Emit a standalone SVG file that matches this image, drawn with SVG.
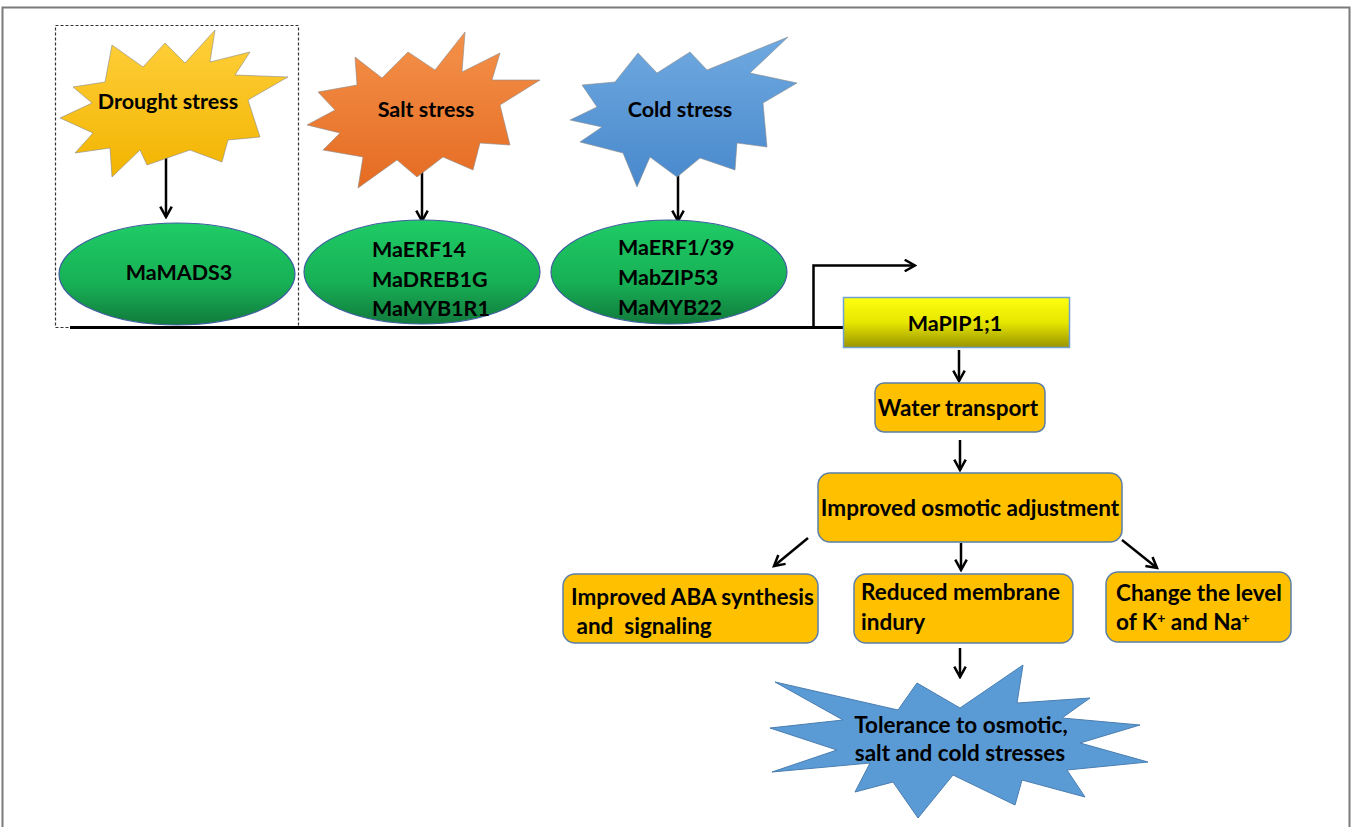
<svg xmlns="http://www.w3.org/2000/svg" width="1352" height="827" viewBox="0 0 1352 827">
<style>
text{font-family:Lato,"Liberation Sans",sans-serif;font-weight:bold;fill:#000;}
.lbl{font-size:21.5px;}
.bx{font-size:22.5px;}
.box{fill:#ffc000;stroke:#5b7fa6;stroke-width:1.5;}
.ell{fill:url(#gEll);stroke:#3f5f9f;stroke-width:1.2;}
.arr{stroke:#000;stroke-width:2.5;fill:none;marker-end:url(#ah);}
.star{stroke:#8a8a8a;stroke-width:0.6;}
</style>
<defs>
<marker id="ah" viewBox="0 0 12 12" refX="10" refY="6" markerWidth="5.5" markerHeight="5.5" orient="auto" markerUnits="strokeWidth">
<path d="M1,1 L10,6 L1,11" fill="none" stroke="#000" stroke-width="2.2"/>
</marker>
<linearGradient id="gEll" x1="0" y1="0" x2="0" y2="1">
<stop offset="0" stop-color="#1fcc66"/><stop offset="0.6" stop-color="#17b055"/><stop offset="1" stop-color="#117a3c"/>
</linearGradient>
<linearGradient id="gPip" x1="0" y1="0" x2="0" y2="1">
<stop offset="0" stop-color="#ffff10"/><stop offset="0.5" stop-color="#e6e600"/><stop offset="1" stop-color="#9a9400"/>
</linearGradient>
<linearGradient id="gY" x1="0" y1="0" x2="0" y2="1">
<stop offset="0" stop-color="#ffd03c"/><stop offset="1" stop-color="#f2b400"/>
</linearGradient>
<linearGradient id="gO" x1="0" y1="0" x2="0" y2="1">
<stop offset="0" stop-color="#f4914a"/><stop offset="1" stop-color="#e56b22"/>
</linearGradient>
<linearGradient id="gB" x1="0" y1="0" x2="0" y2="1">
<stop offset="0" stop-color="#6fa9e0"/><stop offset="1" stop-color="#4888cc"/>
</linearGradient>
</defs>
<rect width="1352" height="827" fill="#fff"/>
<g id="frame" fill="none" stroke="#7a7a7a" stroke-width="2">
<path d="M2.5,827 L2.5,7.5 L1349.5,7.5 L1349.5,827"/>
</g>
<rect id="drought-box" x="55.5" y="25.5" width="243" height="302" fill="none" stroke="#333" stroke-width="1.2" stroke-dasharray="3,2"/>
<g id="connectors">
<path d="M70,327.5 L845,327.5" stroke="#000" stroke-width="3" fill="none"/>
<path d="M813.5,327 L813.5,265.5 L915,265.5" class="arr"/>
<path d="M166,141 L166,217" class="arr"/>
<path d="M422,166 L422,221" class="arr"/>
<path d="M678,166 L678,221" class="arr"/>
<path d="M959,350 L959,381" class="arr"/>
<path d="M960,440 L960,470" class="arr"/>
<path d="M808,538 L774,566" class="arr"/>
<path d="M961,543 L961,570" class="arr"/>
<path d="M1122,540 L1157,568" class="arr"/>
<path d="M960,648 L960,677" class="arr"/>
</g>
<g id="drought">
<polygon class="star" fill="url(#gY)" points="112,45 143,67 165,43 185,63 215,30 210,62 250,52 235,75 288,77 248,100 260,137 228,140 222,162 190,150 147,165 140,150 112,177 110,148 75,153 93,133 60,118 92,103 73,87 105,82"/>
<text class="lbl" x="168" y="109" text-anchor="middle" font-size="21">Drought stress</text>
</g>
<g id="salt">
<polygon class="star" fill="url(#gO)" points="355,57 382,78 408,52 435,70 465,32 462,72 500,53 492,80 540,80 500,105 510,145 480,143 473,170 443,157 417,177 397,160 358,188 363,157 323,150 340,133 307,125 335,110 318,92 357,85"/>
<text class="lbl" x="426" y="117" text-anchor="middle" font-size="21">Salt stress</text>
</g>
<g id="cold">
<polygon class="star" fill="url(#gB)" points="638,53 657,73 690,52 707,70 788,37 750,73 797,83 763,103 767,147 737,143 735,170 700,158 677,177 650,157 637,187 623,153 580,142 602,127 570,120 597,107 582,85 615,82"/>
<text class="lbl" x="680" y="117" text-anchor="middle" font-size="21">Cold stress</text>
</g>
<g id="mamads3">
<ellipse class="ell" cx="177" cy="274" rx="118" ry="51"/>
<text class="lbl" x="179" y="280" text-anchor="middle">MaMADS3</text>
</g>
<g id="salt-tfs">
<ellipse class="ell" cx="422" cy="272" rx="118" ry="52"/>
<text class="lbl" x="372" y="257">MaERF14</text>
<text class="lbl" x="372" y="287">MaDREB1G</text>
<text class="lbl" x="372" y="316">MaMYB1R1</text>
</g>
<g id="cold-tfs">
<ellipse class="ell" cx="669" cy="272" rx="118" ry="52"/>
<text class="lbl" x="618" y="255">MaERF1/39</text>
<text class="lbl" x="618" y="285">MabZIP53</text>
<text class="lbl" x="618" y="315">MaMYB22</text>
</g>
<g id="mapip">
<rect x="843.5" y="297.5" width="226" height="50" fill="url(#gPip)" stroke="#6fa0d0" stroke-width="1.5"/>
<text class="lbl" x="955" y="331" text-anchor="middle" font-size="21">MaPIP1;1</text>
</g>
<g id="water">
<rect class="box" x="875" y="383" width="170" height="49" rx="9"/>
<text class="bx" x="958" y="416" text-anchor="middle">Water transport</text>
</g>
<g id="osmotic">
<rect class="box" x="818" y="473" width="304" height="69" rx="12"/>
<text class="bx" x="970" y="516" text-anchor="middle" font-size="23.5">Improved osmotic adjustment</text>
</g>
<g id="aba">
<rect class="box" x="563" y="574" width="255" height="69" rx="12"/>
<text class="bx" x="571" y="605">Improved ABA synthesis</text>
<text class="bx" x="571" y="634" xml:space="preserve"> and  signaling</text>
</g>
<g id="membrane">
<rect class="box" x="854" y="574" width="219" height="69" rx="12"/>
<text class="bx" x="861" y="600">Reduced membrane</text>
<text class="bx" x="861" y="630">indury</text>
</g>
<g id="ions">
<rect class="box" x="1106" y="572" width="185" height="70" rx="12"/>
<text class="bx" x="1116" y="601">Change the level</text>
<text class="bx" x="1116" y="630">of K<tspan font-size="14" dy="-7">+</tspan><tspan dy="7"> and Na</tspan><tspan font-size="14" dy="-7">+</tspan></text>
</g>
<g id="tolerance">
<polygon fill="#5b9bd5" stroke="#4a7eb0" stroke-width="1" points="775,682 898,710 917,683 960,708 1023,665 1017,703 1090,698 1062,718 1140,725 1080,743 1148,762 1067,770 1085,797 1022,780 1015,805 953,775 918,818 893,782 855,792 870,763 772,772 837,750 770,728 843,720"/>
<text class="bx" x="961" y="733" text-anchor="middle">Tolerance to osmotic,</text>
<text class="bx" x="960" y="761" text-anchor="middle">salt and cold stresses</text>
</g>
</svg>
